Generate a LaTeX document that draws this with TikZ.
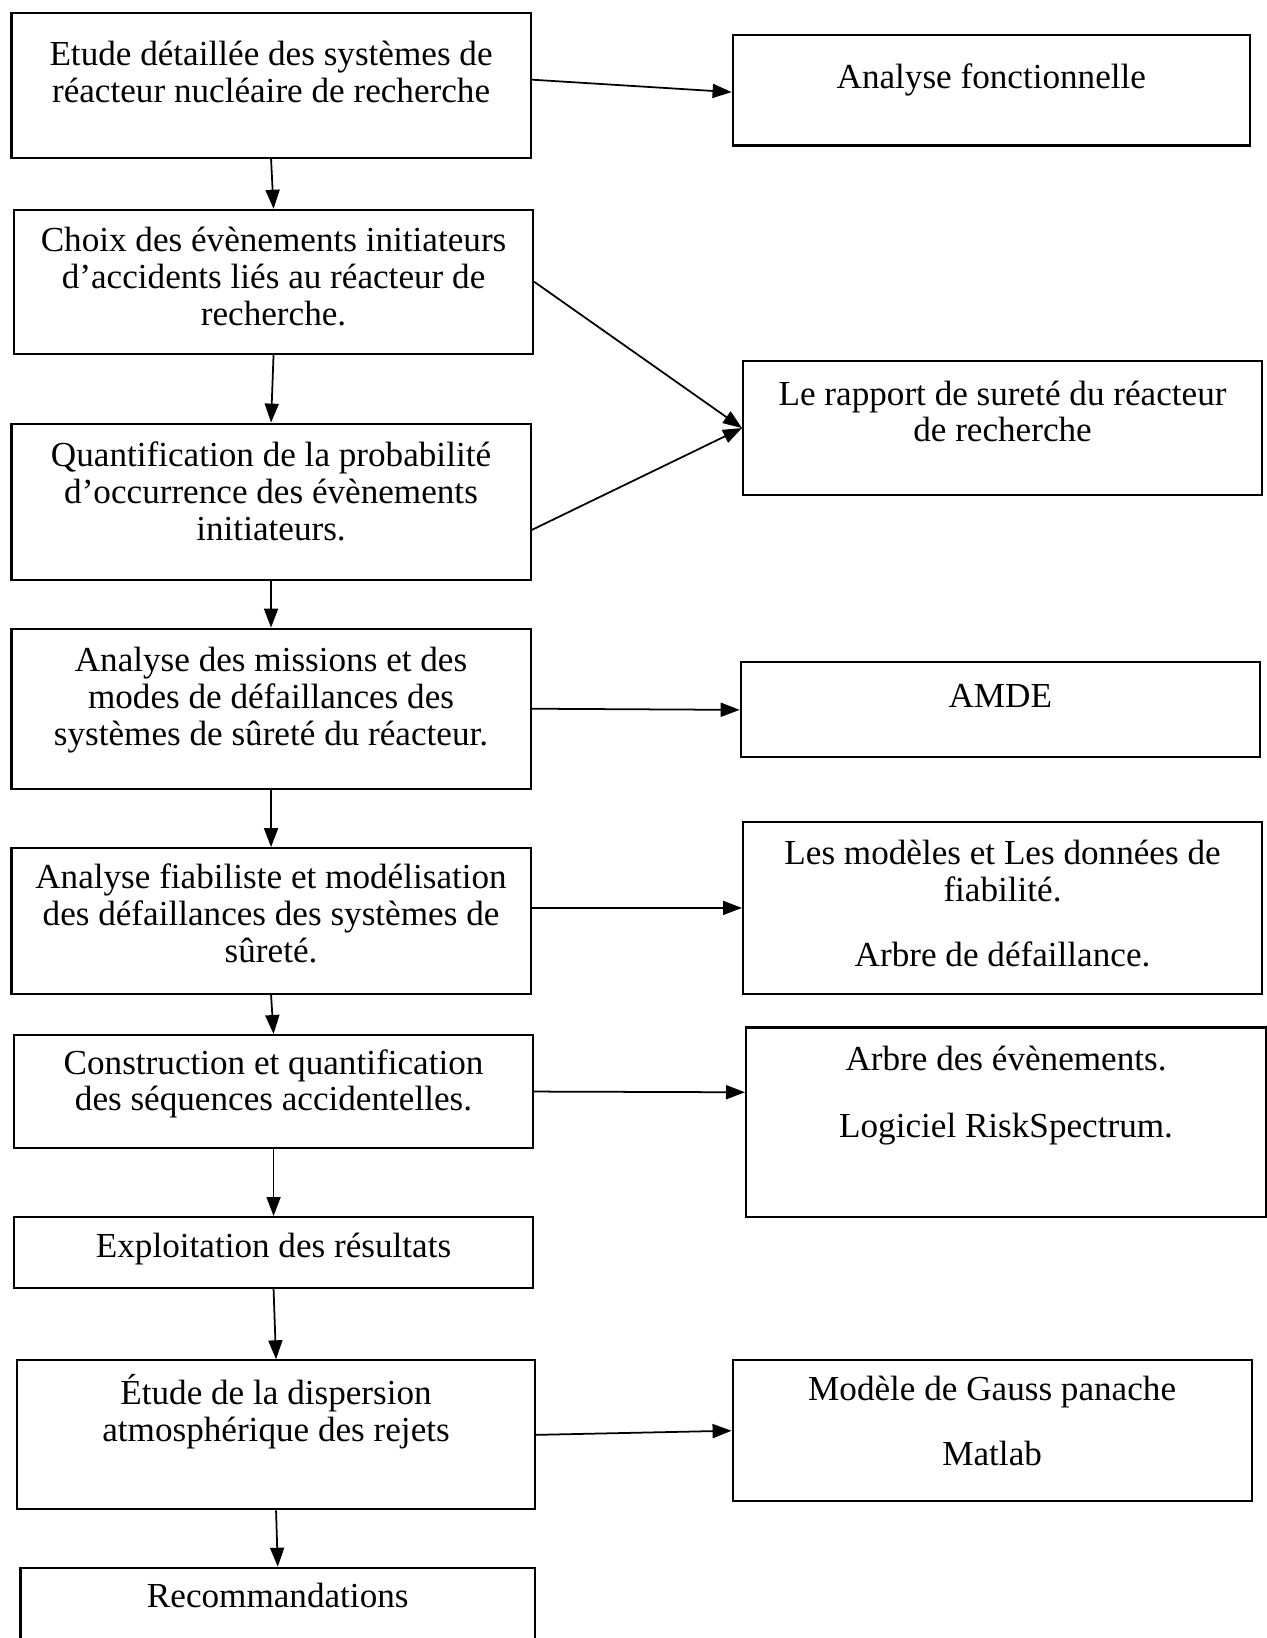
\documentclass[tikz,border=0pt]{standalone}
\usepackage{fontspec}
\setmainfont{Liberation Serif}
\usetikzlibrary{arrows.meta}
\pgfdeclarelayer{bg}
\pgfsetlayers{bg,main}
\tikzset{
    every node/.style={rectangle, draw, inner sep=0mm, anchor=north west, line width=0.6pt, font=\fontsize{10}{10.5}\selectfont}
}
\tikzset{flow/.style={-{Triangle[length=1.9mm, width=1.4mm]}, line width=0.5pt}}
\newcommand{\boxlines}[4]{\parbox[c][#2cm][t]{#1cm}{\centering\rule{0pt}{#3cm}#4\par}}

\begin{document}
\begin{tikzpicture}
        \useasboundingbox (0cm, 0cm) rectangle (12.670000cm, -16.380000cm);
        \clip (0cm, 0cm) rectangle (12.670000cm, -16.380000cm);
        \node (s0) at (0.104000cm, -0.115000cm) {\boxlines{5.192}{1.452}{0.530}{Etude détaillée des systèmes de\\réacteur nucléaire de recherche}};
        \node (r0) at (7.316000cm, -0.337000cm) {\boxlines{5.174}{1.107}{0.537}{Analyse fonctionnelle}};
        \node (s1) at (0.130000cm, -2.088000cm) {\boxlines{5.190}{1.437}{0.420}{Choix des évènements initiateurs\\d’accidents liés au réacteur de\\recherche.}};
        \node (r1) at (7.420000cm, -3.600000cm) {\boxlines{5.190}{1.340}{0.440}{Le rapport de sureté du réacteur\\de recherche}};
        \node (s2) at (0.105000cm, -4.226000cm) {\boxlines{5.190}{1.567}{0.430}{Quantification de la probabilité\\d’occurrence des évènements\\initiateurs.}};
        \node (s3) at (0.105000cm, -6.276000cm) {\boxlines{5.190}{1.601}{0.433}{Analyse des missions et des\\modes de défaillances des\\systèmes de sûreté du réacteur.}};
        \node (r2) at (7.397000cm, -6.613000cm) {\boxlines{5.190}{0.950}{0.450}{AMDE}};
        \node (s4) at (0.105000cm, -8.471000cm) {\boxlines{5.190}{1.456}{0.403}{Analyse fiabiliste et modélisation\\des défaillances des systèmes de\\sûreté.}};
        \node (r3) at (7.420000cm, -8.210000cm) {\boxlines{5.190}{1.717}{0.426}{Les modèles et Les données de\\fiabilité.\\[0.28cm]Arbre de défaillance.}};
        \node (s5) at (0.130000cm, -10.340000cm) {\boxlines{5.190}{1.130}{0.390}{Construction et quantification\\des séquences accidentelles.}};
        \node (r4) at (7.450000cm, -10.264000cm) {\boxlines{5.200}{1.896}{0.430}{Arbre des évènements.\\[0.3cm]Logiciel RiskSpectrum.}};
        \node (s6) at (0.130000cm, -12.160000cm) {\boxlines{5.190}{0.707}{0.400}{Exploitation des résultats}};
        \node (s7) at (0.160000cm, -13.593000cm) {\boxlines{5.180}{1.490}{0.440}{Étude de la dispersion\\atmosphérique des rejets}};
        \node (r5) at (7.316000cm, -13.593000cm) {\boxlines{5.190}{1.407}{0.400}{Modèle de Gauss panache\\[0.28cm]Matlab}};
        \node (s8) at (0.194000cm, -15.667000cm) {\boxlines{5.146}{1.200}{0.400}{Recommandations}};
        \begin{pgfonlayer}{bg}
                \draw (s0.south) edge [flow] (s1.north);
                \draw (s1.south) edge [flow] (s2.north);
                \draw (s2.south) edge [flow] (s3.north);
                \draw (s3.south) edge [flow] (s4.north);
                \draw (s4.south) edge [flow] (s5.north);
                \draw (s5.south) edge [flow] (s6.north);
                \draw (s6.south) edge [flow] (s7.north);
                \draw (s7.south) edge [flow] (s8.north);
                \draw ([yshift=0.55mm]s0.east) edge [flow] ([yshift=-0.2mm]r0.west);
                \draw (s1.east) edge [flow] (r1.west);
                \draw ([yshift=-2.8mm]s2.east) edge [flow] (r1.west);
                \draw (s3.east) edge [flow] (r2.west);
                \draw ([yshift=1.3mm]s4.east) edge [flow] (r3.west);
                \draw (s5.east) edge [flow] ([yshift=3mm]r4.west);
                \draw (s7.east) edge [flow] (r5.west);
        \end{pgfonlayer}
\end{tikzpicture}
\end{document}
